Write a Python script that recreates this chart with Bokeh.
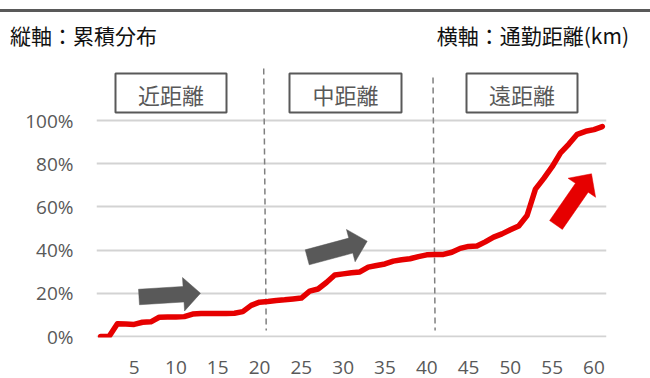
import numpy as np
from bokeh.plotting import figure
from bokeh.layouts import column
from bokeh.models import (Range1d, FixedTicker, NumeralTickFormatter, BoxAnnotation,
                          Label, ColumnDataSource, Div)
from bokeh.embed import file_html
from bokeh.resources import INLINE

# ---- data ----
distance_km = list(range(1, 62))
cumulative_pct = [0.0, 0.0, 5.9, 5.8, 5.6, 6.6, 6.8, 8.9, 9.0, 9.0,
                  9.2, 10.4, 10.6, 10.7, 10.7, 10.7, 10.8, 11.5, 14.4, 15.9,
                  16.2, 16.7, 17.0, 17.4, 17.8, 21.0, 22.0, 25.0, 28.5, 29.0,
                  29.5, 29.9, 32.1, 32.9, 33.6, 34.9, 35.5, 36.0, 37.0, 37.8,
                  38.0, 38.0, 39.0, 40.8, 41.7, 41.9, 43.8, 46.0, 47.5, 49.4,
                  51.2, 56.0, 68.2, 73.2, 78.6, 85.0, 89.1, 93.6, 95.0, 95.8,
                  97.2]
x_ticks = [5, 10, 15, 20, 25, 30, 35, 40, 45, 50, 55, 60]
y_ticks = [0.0, 0.2, 0.4, 0.6, 0.8, 1.0]
zone_labels = ["近距離", "中距離", "遠距離"]
zone_boundaries = [20.5, 40.75]
y_title = "縦軸：累積分布"
x_title = "横軸：通勤距離(km)"

cum = [v / 100.0 for v in cumulative_pct]

# ---- geometry (page pixels) ----
W, H = 650, 378
HEAD = 60                       # header strip height
FL, FR, FT, FB = 96, 606, HEAD, 337
x_start, x_end = 0.5, 61.5
PXX = (FR - FL) / (x_end - x_start)
ZERO_PX, PX_PER_UNIT = 336.0, 216.0
y_end = (ZERO_PX - FT) / PX_PER_UNIT
y_start = (ZERO_PX - FB) / PX_PER_UNIT

def dx(px):
    return x_start + (px - FL) / PXX

def dy(py):
    return (ZERO_PX - py) / PX_PER_UNIT

header_html = f"""
<div style="position:relative;width:{W}px;height:{HEAD}px;background:white;">
  <div style="position:absolute;left:0;top:9px;width:{W}px;height:3px;background:#595959;"></div>
  <div style="position:absolute;left:10px;top:20px;height:30px;line-height:30px;
       font-family:'Noto Sans CJK JP';font-size:21px;color:#111111;white-space:nowrap;">{y_title}</div>
  <div style="position:absolute;right:21px;top:20px;height:30px;line-height:30px;
       font-family:'Noto Sans CJK JP';font-size:21px;color:#111111;white-space:nowrap;">{x_title}</div>
</div>
"""
header = Div(text=header_html, width=W, height=HEAD, margin=0)

p = figure(width=W, height=H - HEAD, output_backend="svg", toolbar_location=None,
           x_range=Range1d(x_start, x_end), y_range=Range1d(y_start, y_end),
           min_border_left=FL, min_border_right=W - FR, min_border_top=0,
           min_border_bottom=H - FB, margin=0)
p.outline_line_color = None
p.background_fill_color = "white"
p.border_fill_color = "white"

# axes
for ax in (p.xaxis[0], p.yaxis[0]):
    ax.axis_line_color = None
    ax.major_tick_line_color = None
    ax.minor_tick_line_color = None
    ax.major_tick_out = 0
    ax.major_tick_in = 0
    ax.major_label_text_color = "#595959"
    ax.major_label_text_font = "Open Sans"
    ax.major_label_text_font_size = "19px"
p.xaxis.ticker = FixedTicker(ticks=x_ticks)
p.xaxis.major_label_standoff = 23
p.yaxis.ticker = FixedTicker(ticks=y_ticks)
p.yaxis.formatter = NumeralTickFormatter(format="0%")
p.yaxis.major_label_standoff = 23

p.xgrid.grid_line_color = None
p.ygrid.grid_line_color = "#d3d3d3"
p.ygrid.grid_line_width = 2

# dashed boundaries
p.segment(x0=[zone_boundaries[0], zone_boundaries[1]], y0=[dy(68), dy(77)],
          x1=[zone_boundaries[0] + 0.3, zone_boundaries[1] + 0.25], y1=[dy(330), dy(330)],
          line_color="#7f7f7f", line_width=1.5, line_dash="6 4")

# zone boxes
boxes_px = [(115, 226), (289, 401), (466, 577)]
for (l, r), t in zip(boxes_px, zone_labels):
    p.add_layout(BoxAnnotation(left=dx(l), right=dx(r), top=dy(73), bottom=dy(112),
                               fill_color="white", fill_alpha=1,
                               line_color="#595959", line_alpha=1, line_width=2))
    p.add_layout(Label(x=dx((l + r) / 2), y=dy(93), text=t, text_align="center",
                       text_baseline="middle", text_font="Noto Sans CJK JP",
                       text_font_size="22px", text_color="#595959"))

# block arrows (pixel layout -> data)
def block_arrow(tail, tip, shaft=15.5, head=33.5, head_len=17):
    t = np.array(tail, float); h = np.array(tip, float)
    d = h - t; L = np.hypot(*d); u = d / L; n = np.array([-u[1], u[0]])
    b = h - u * head_len
    pts = [t + n * shaft / 2, b + n * shaft / 2, b + n * head / 2, h,
           b - n * head / 2, b - n * shaft / 2, t - n * shaft / 2]
    return [dx(q[0]) for q in pts], [dy(q[1]) for q in pts]

for tail, tip, col in [((138.5, 296.5), (200, 292.7), "#595959"),
                       ((306.7, 256.8), (366.7, 240.7), "#595959"),
                       ((555.5, 224.5), (591, 173.3), "#e60000")]:
    xs, ys = block_arrow(tail, tip)
    p.patch(xs, ys, fill_color=col, line_color=col, line_width=0.5)

# cumulative line
src = ColumnDataSource(dict(x=distance_km, y=cum))
p.line("x", "y", source=src, line_color="#e60000", line_width=5.5,
       line_join="round", line_cap="round")

layout = column(header, p, spacing=0)
open("out.html", "w").write(file_html(layout, INLINE))
